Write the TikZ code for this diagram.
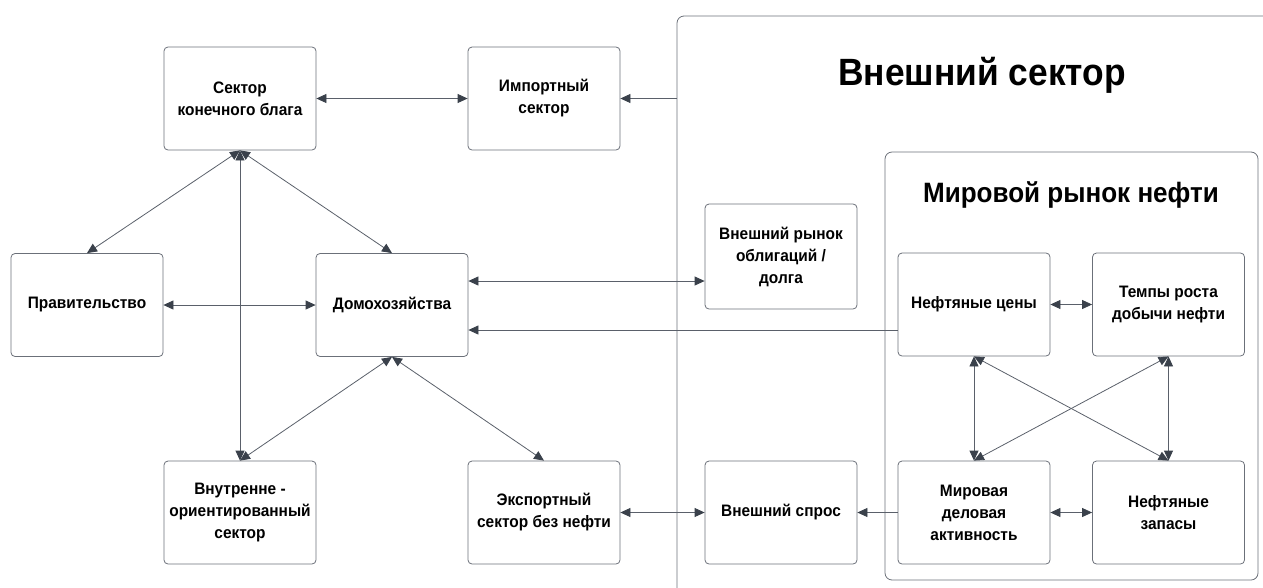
\documentclass[tikz,border=0pt]{standalone}
\usepackage{fontspec}
\setmainfont{Liberation Sans}[FakeStretch=0.93]
\usetikzlibrary{arrows.meta,calc}
\definecolor{boxgray}{HTML}{6B7079}
\definecolor{linegray}{HTML}{5A606A}
\definecolor{headgray}{HTML}{3A414B}
\begin{document}
\begin{tikzpicture}[x=1pt,y=-1pt,
  box/.style={draw=boxgray,line width=0.8pt,rounded corners=4pt,minimum width=152pt,minimum height=103pt,align=center,font=\bfseries\fontsize{16.6}{22}\selectfont,inner sep=2pt,yshift=-1.5pt},
  frame/.style={draw=boxgray,line width=0.8pt,rounded corners=7pt},
  arr/.style={draw=linegray,line width=0.8pt,-{Triangle[length=10pt,width=9pt,fill=headgray,color=headgray]}},
  darr/.style={draw=linegray,line width=0.8pt,{Triangle[length=10pt,width=9pt,fill=headgray,color=headgray]}-{Triangle[length=10pt,width=9pt,fill=headgray,color=headgray]}}]
\useasboundingbox (0,0) rectangle (1263,587);
\begin{scope}
\clip (0,0) rectangle (1263,587);
% frames
\draw[frame] (677,600) -- (677,16) -- (1280,16);
\draw[frame] (885,152) rectangle (1258,580);
\end{scope}
\node[font=\bfseries\fontsize{38}{40}\selectfont] (t1) at (982,75) {Внешний сектор};
\node[font=\bfseries\fontsize{28}{30}\selectfont] (t2) at (1071,195) {Мировой рынок нефти};
% nodes (centres shifted by yshift in style, so give centre-1.5)
\node[box] (sk) at (240,97) {Сектор\\конечного блага};
\node[box] (imp) at (544,97) {Импортный\\сектор};
\node[box] (gov) at (87,303.5) {Правительство};
\node[box] (dom) at (392,303.5) {Домохозяйства};
\node[box,minimum height=105pt] (bond) at (781,255) {Внешний рынок\\облигаций /\\долга};
\node[box] (vnut) at (240,511) {Внутренне -\\ориентированный\\сектор};
\node[box] (exp) at (544,511) {Экспортный\\сектор без нефти};
\node[box] (dem) at (781,511) {Внешний спрос};
\node[box] (price) at (974,303) {Нефтяные цены};
\node[box] (growth) at (1168.5,303) {Темпы роста\\добычи нефти};
\node[box] (act) at (974,511) {Мировая\\деловая\\активность};
\node[box] (stock) at (1168.5,511) {Нефтяные\\запасы};
% helper coordinates
\coordinate (fr) at (677,98.5);
\coordinate (y1) at (0,281);
\coordinate (y2) at (0,330);
% connectors
\draw[darr] (sk) -- (imp);
\draw[arr] (fr) -- (imp.east |- fr);
\draw[darr] (sk.south) -- (gov.north);
\draw[darr] (sk.south) -- (dom.north);
\draw[darr] (sk.south) -- (vnut.north);
\draw[darr] (gov) -- (dom);
\draw[darr] (dom.south) -- (vnut.north);
\draw[darr] (dom.south) -- (exp.north);
\draw[darr] (dom.east |- y1) -- (bond.west |- y1);
\draw[arr] (price.west |- y2) -- (dom.east |- y2);
\draw[darr] (exp) -- (dem);
\draw[arr] (act) -- (dem);
\draw[darr] (price) -- (growth);
\draw[darr] (act) -- (stock);
\draw[darr] (price.south) -- (act.north);
\draw[darr] (growth.south) -- (stock.north);
\draw[darr] (price.south) -- (stock.north);
\draw[darr] (growth.south) -- (act.north);
\end{tikzpicture}
\end{document}
